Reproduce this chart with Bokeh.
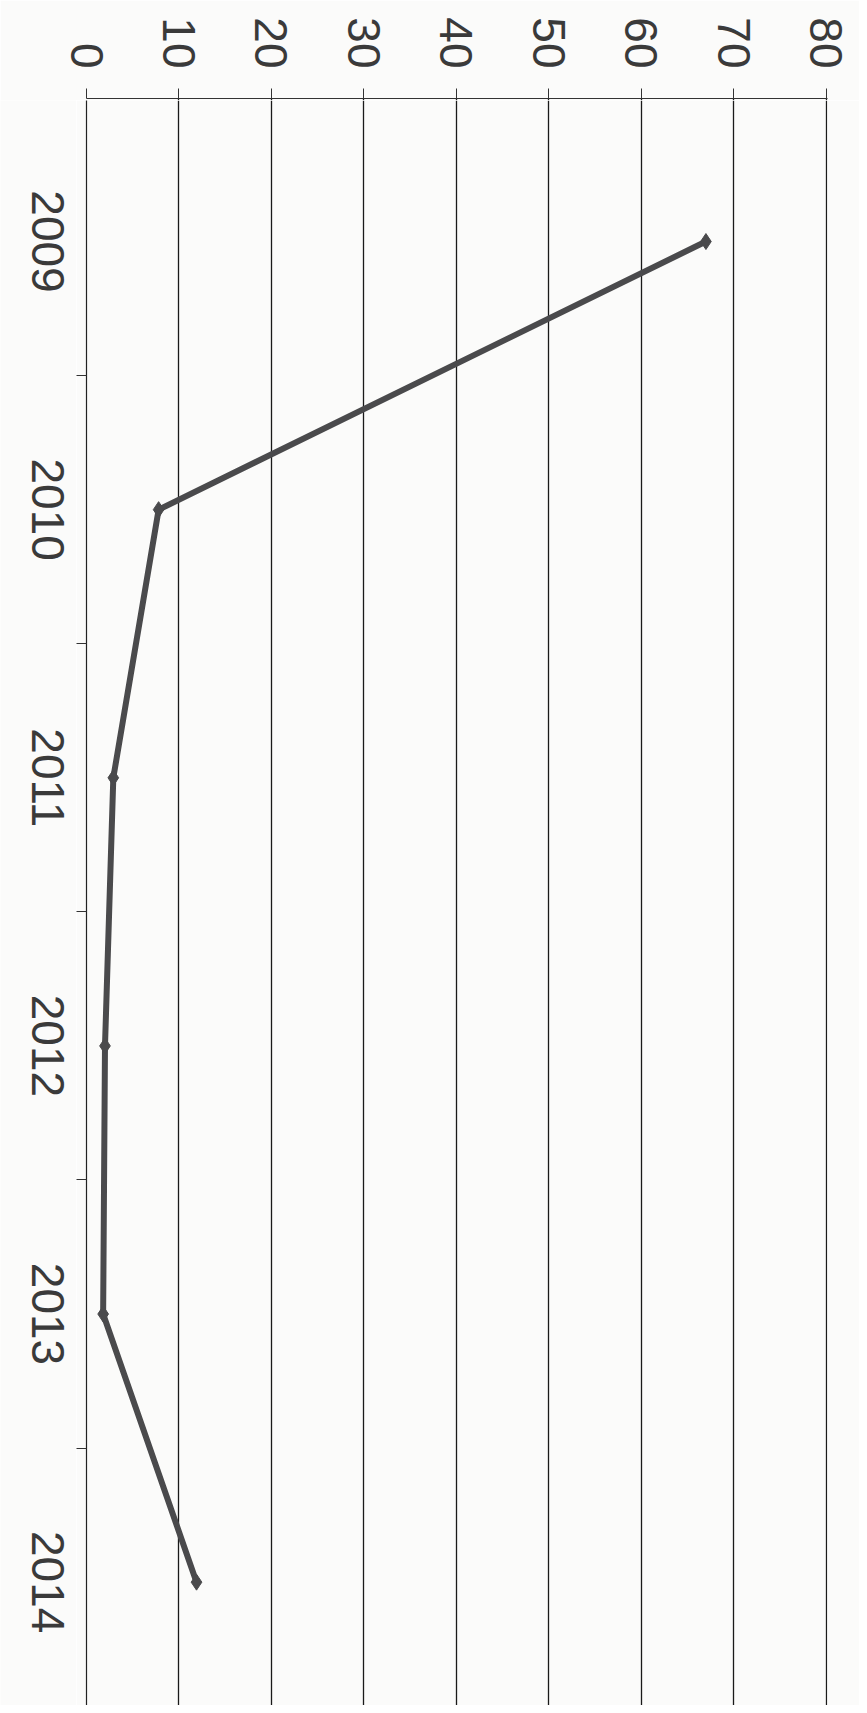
import math
from bokeh.plotting import figure
from bokeh.layouts import row, column
from bokeh.models import Range1d, FixedTicker, ColumnDataSource
from bokeh.core.properties import value
from bokeh.embed import file_html
from bokeh.resources import INLINE

# data
years = [2009, 2010, 2011, 2012, 2013, 2014]
year_labels = ["2009", "2010", "2011", "2012", "2013", "2014"]
values = [67.0, 7.8, 2.9, 2.0, 1.8, 11.9]
value_ticks = [0, 10, 20, 30, 40, 50, 60, 70, 80]

src = ColumnDataSource(dict(year=years, value=values, label=year_labels,
                            pos=[0] * len(years)))

BG = "#fbfbfa"
x_range = Range1d(0, 80.15)
y_range = Range1d(2014.46, 2008.474)

# ---- top strip: value axis -------------------------------------------------
top = figure(width=859, height=100, output_backend="svg", toolbar_location=None,
             x_range=x_range, y_range=Range1d(0, 1),
             x_axis_location="above", y_axis_location=None,
             min_border_left=86, min_border_top=98, min_border_right=32, min_border_bottom=0)
top.background_fill_color = BG
top.border_fill_color = BG
top.outline_line_color = None
top.ygrid.grid_line_color = None
top.xgrid.ticker = FixedTicker(ticks=value_ticks)
top.xgrid.grid_line_color = "#1a1a1a"
top.xgrid.grid_line_width = 1.3
xa = top.xaxis[0]
xa.ticker = FixedTicker(ticks=value_ticks)
xa.major_label_orientation = -math.pi / 2
xa.major_label_text_font = "Liberation Sans"
xa.major_label_text_font_size = "46px"
xa.major_label_text_color = "#3a3a3a"
xa.major_label_standoff = 20
xa.axis_line_color = "#333333"
xa.axis_line_width = 1.2
xa.major_tick_line_color = "#333333"
xa.major_tick_out = 10
xa.major_tick_in = 0
xa.minor_tick_line_color = None

# ---- main plot -------------------------------------------------------------
p = figure(width=783, height=1605, output_backend="svg", toolbar_location=None,
           x_range=x_range, y_range=y_range, x_axis_location=None,
           min_border_left=10, min_border_top=0, min_border_right=32, min_border_bottom=0)
p.background_fill_color = BG
p.border_fill_color = BG
p.outline_line_color = None

ya = p.yaxis[0]
ya.ticker = FixedTicker(ticks=[], minor_ticks=[y + 0.5 for y in years[:-1]])
ya.axis_line_color = "#222222"
ya.axis_line_width = 1.2
ya.major_tick_line_color = None
ya.minor_tick_line_color = "#333333"
ya.minor_tick_out = 10
ya.minor_tick_in = 0

p.xgrid.ticker = FixedTicker(ticks=value_ticks)
p.xgrid.grid_line_color = "#1a1a1a"
p.xgrid.grid_line_width = 1.3
p.ygrid.grid_line_color = None

p.line(x="value", y="year", source=src, line_color="#4a4a4c", line_width=6)
p.scatter(x="value", y="year", source=src, marker="diamond", size=16,
          fill_color="#4a4a4c", line_color="#4a4a4c")

# ---- side panel with the category labels -----------------------------------
lp = figure(width=76, height=1605, output_backend="svg", toolbar_location=None,
            x_range=Range1d(-1, 1), y_range=y_range,
            x_axis_location=None, y_axis_location=None,
            min_border_left=0, min_border_top=0, min_border_right=0, min_border_bottom=0)
lp.background_fill_color = BG
lp.border_fill_color = BG
lp.outline_line_color = None
lp.grid.grid_line_color = None
lp.text(x="pos", y="year", text="label", source=src, angle=-math.pi / 2,
        x_offset=9, text_align="center", text_baseline="middle",
        text_font=value("Liberation Sans"), text_font_size="46px", text_color="#3a3a3a")

layout = column(top, row(lp, p, spacing=0), spacing=0)
open("out.html", "w").write(file_html(layout, INLINE))
